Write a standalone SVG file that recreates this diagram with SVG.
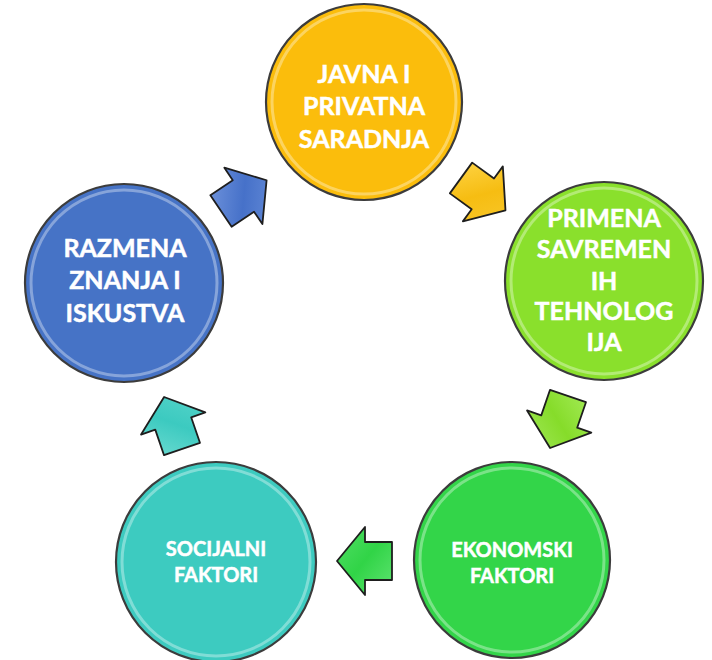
<svg xmlns="http://www.w3.org/2000/svg" xmlns:xlink="http://www.w3.org/1999/xlink" width="712" height="660" viewBox="0 0 712 660">
<style>
.ring{stroke:#3c3c3c;stroke-width:2.2}
.bevel{fill:none;stroke:#ffffff;stroke-opacity:0.35;stroke-width:3}
.t{font-family:Lato,"Open Sans","Liberation Sans",sans-serif;font-weight:bold;fill:#ffffff;stroke:#ffffff;stroke-width:0.5;text-anchor:middle}
.big{font-size:25px}
.small{font-size:20px}
.arr{stroke:#1e1e1e;stroke-width:1.8;stroke-linejoin:round}
</style>
<defs>
<path id="arrow" d="M0,-19 H27 V-34 L55,0 L27,34 V19 H0 Z"/>
<linearGradient id="gY" x1="0" y1="0" x2="1" y2="1"><stop offset="0" stop-color="#ffd64a"/><stop offset="0.5" stop-color="#f6bd12"/><stop offset="1" stop-color="#f9c92e"/></linearGradient>
<linearGradient id="gL" x1="0" y1="0" x2="1" y2="1"><stop offset="0" stop-color="#a6ec5a"/><stop offset="0.5" stop-color="#86dc2a"/><stop offset="1" stop-color="#a2e85a"/></linearGradient>
<linearGradient id="gG" x1="0" y1="0" x2="1" y2="1"><stop offset="0" stop-color="#5fe471"/><stop offset="0.5" stop-color="#31d447"/><stop offset="1" stop-color="#52de66"/></linearGradient>
<linearGradient id="gT" x1="0" y1="0" x2="1" y2="1"><stop offset="0" stop-color="#6fdcd2"/><stop offset="0.5" stop-color="#3ccac0"/><stop offset="1" stop-color="#5ad5cb"/></linearGradient>
<linearGradient id="gB" x1="0" y1="0" x2="1" y2="1"><stop offset="0" stop-color="#7598de"/><stop offset="0.5" stop-color="#4671c9"/><stop offset="1" stop-color="#6a90da"/></linearGradient>
</defs>
<rect width="712" height="660" fill="#ffffff"/>
<g id="connectors">
<use xlink:href="#arrow" class="arr" fill="url(#gY)" transform="translate(461,178) rotate(36)"/>
<use xlink:href="#arrow" class="arr" fill="url(#gL)" transform="translate(568,396) rotate(109)"/>
<use xlink:href="#arrow" class="arr" fill="url(#gG)" transform="translate(392,561) rotate(180)"/>
<use xlink:href="#arrow" class="arr" fill="url(#gT)" transform="translate(182,449) rotate(-109)"/>
<use xlink:href="#arrow" class="arr" fill="url(#gB)" transform="translate(221,211) rotate(-34)"/>
</g>
<g id="node-javna">
<circle cx="364" cy="102" r="98" class="ring" fill="#fbbd0c"/>
<circle cx="364" cy="102" r="92" class="bevel"/>
<text class="t big" x="364" y="83">JAVNA I</text>
<text class="t big" x="364" y="115">PRIVATNA</text>
<text class="t big" x="364" y="148">SARADNJA</text>
</g>
<g id="node-primena">
<circle cx="604" cy="281" r="99" class="ring" fill="#8ae02c"/>
<circle cx="604" cy="281" r="93" class="bevel"/>
<text class="t big" x="604" y="227">PRIMENA</text>
<text class="t big" x="604" y="258">SAVREMEN</text>
<text class="t big" x="604" y="290">IH</text>
<text class="t big" x="604" y="320">TEHNOLOG</text>
<text class="t big" x="604" y="351">IJA</text>
</g>
<g id="node-ekonomski">
<circle cx="512" cy="560" r="98" class="ring" fill="#33d549"/>
<circle cx="512" cy="560" r="92" class="bevel"/>
<text class="t small" x="512" y="557">EKONOMSKI</text>
<text class="t small" x="512" y="583">FAKTORI</text>
</g>
<g id="node-socijalni">
<circle cx="216" cy="562" r="100" class="ring" fill="#3dcbc0"/>
<circle cx="216" cy="562" r="94" class="bevel"/>
<text class="t small" x="216" y="556">SOCIJALNI</text>
<text class="t small" x="216" y="582">FAKTORI</text>
</g>
<g id="node-razmena">
<circle cx="124" cy="283" r="99" class="ring" fill="#4673c6"/>
<circle cx="124" cy="283" r="93" class="bevel"/>
<text class="t big" x="125" y="257">RAZMENA</text>
<text class="t big" x="125" y="289">ZNANJA I</text>
<text class="t big" x="125" y="322">ISKUSTVA</text>
</g>
</svg>
